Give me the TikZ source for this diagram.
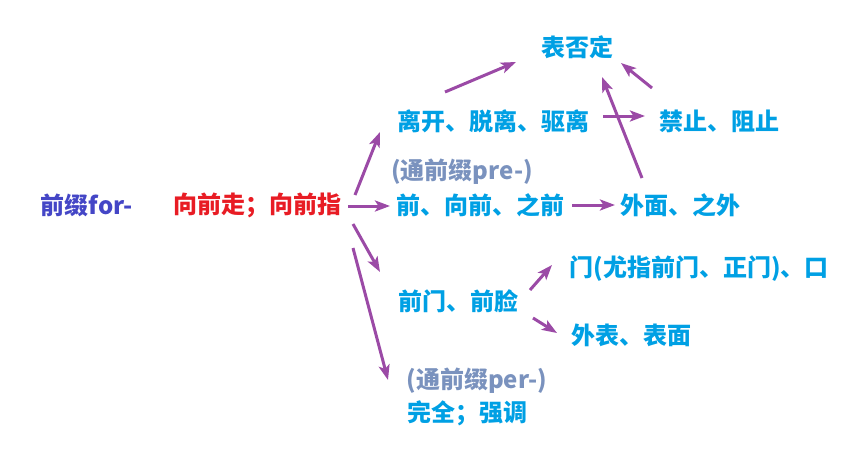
\documentclass[tikz,border=0pt]{standalone}
\usepackage{fontspec}
\setmainfont{Noto Sans CJK SC}
\usetikzlibrary{arrows.meta}
\definecolor{rootblue}{RGB}{68,70,198}
\definecolor{fwdred}{RGB}{232,28,36}
\definecolor{sensecyan}{RGB}{0,160,228}
\definecolor{hintgray}{RGB}{122,146,190}
\definecolor{arrpurple}{RGB}{155,74,166}

\begin{document}
\begin{tikzpicture}[x=1pt,y=-1pt,
  word/.style={inner sep=0pt,font=\fontsize{24}{27}\selectfont\bfseries},
  sense/.style={word,text=sensecyan},
  hint/.style={word,text=hintgray},
  arr/.style={arrpurple,line width=3pt,-{Stealth[length=15pt,width=11pt,inset=3.5pt]}}]
  \useasboundingbox (0,0) rectangle (865,460);
  % Root and its core meaning
  \node[word,text=rootblue] (prefix) at (87,205) {前缀for-};
  \node[word,text=fwdred] (fwd) at (257,205) {向前走；向前指};
  % Senses
  \node[sense] (neg) at (577,47) {表否定};
  \node[sense] (leave) at (493,121) {离开、脱离、驱离};
  \node[sense] (forbid) at (719,121) {禁止、阻止};
  \node[hint] (prehint) at (462,172) {(通前缀pre-)};
  \node[sense] (before) at (480,205) {前、向前、之前};
  \node[sense] (outside) at (680,205) {外面、之外};
  \node[sense] (door) at (699,269) {门(尤指前门、正门)、口};
  \node[sense] (front) at (458,301) {前门、前脸};
  \node[sense] (surface) at (631,335) {外表、表面};
  \node[hint] (perhint) at (477,381) {(通前缀per-)};
  \node[sense] (whole) at (467,413) {完全；强调};
  % Arrows from the core meaning
  \draw[arr] ([shift={(98,-10)}]fwd.center) -- ([shift={(-113,11)}]leave.center);
  \draw[arr] ([shift={(91,1)}]fwd.center) -- ([shift={(-90,1)}]before.center);
  \draw[arr] ([shift={(96,19)}]fwd.center) -- ([shift={(-78,-29)}]front.center);
  \draw[arr] ([shift={(96,43)}]fwd.center) -- ([shift={(-89,-1)}]perhint.center);
  % Arrows between senses
  \draw[arr] ([shift={(-48,-29)}]leave.center) -- ([shift={(-61,15)}]neg.center);
  \draw[arr] ([shift={(110,-5)}]leave.center) -- ([shift={(-74,-5)}]forbid.center);
  \draw[arr] ([shift={(-67,-33)}]forbid.center) -- ([shift={(44,16)}]neg.center);
  \draw[arr] ([shift={(-38,-27)}]outside.center) -- ([shift={(25,30)}]neg.center);
  \draw[arr] ([shift={(92,0)}]before.center) -- ([shift={(-65,0)}]outside.center);
  \draw[arr] ([shift={(72,-11)}]front.center) -- ([shift={(-147,-4)}]door.center);
  \draw[arr] ([shift={(75,17)}]front.center) -- ([shift={(-74,-2)}]surface.center);
\end{tikzpicture}
\end{document}
